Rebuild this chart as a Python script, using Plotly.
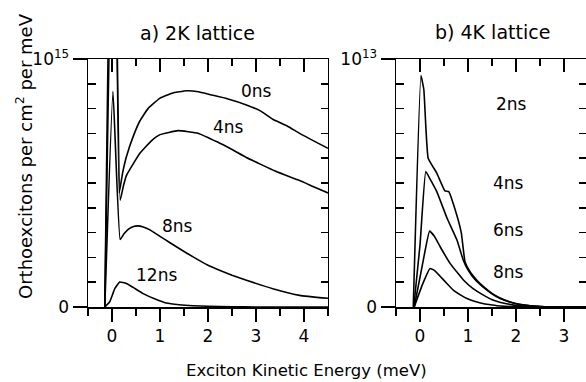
import plotly.graph_objects as go

FONT = "DejaVu Sans"

# ---------------- data: a) 2K lattice (units of 1e15 per cm^2 per meV) ----------
x_2k_0ns = [-0.15, 0.03, 0.15, 0.22, 0.30, 0.44, 0.58, 0.75, 1.00, 1.25, 1.55, 1.80, 2.05,
            2.40, 2.80, 3.10, 3.35, 3.65, 3.91, 4.20, 4.50]
y_2k_0ns = [0.0, 2.5, 0.46, 0.54, 0.606, 0.687, 0.75, 0.80, 0.842, 0.862, 0.872, 0.868, 0.856,
            0.84, 0.815, 0.79, 0.757, 0.73, 0.70, 0.67, 0.64]

x_2k_4ns = [-0.15, 0.04, 0.17, 0.24, 0.30, 0.47, 0.58, 0.82, 1.00, 1.375, 1.80, 2.20, 2.50,
            2.80, 3.10, 3.40, 3.70, 3.91, 4.20, 4.50]
y_2k_4ns = [0.0, 2.0, 0.43, 0.49, 0.53, 0.586, 0.62, 0.67, 0.695, 0.711, 0.70, 0.665, 0.635,
            0.603, 0.575, 0.548, 0.525, 0.51, 0.485, 0.46]

x_2k_8ns = [-0.15, 0.02, 0.17, 0.25, 0.35, 0.45, 0.54, 0.65, 0.80, 1.00, 1.20, 1.45, 1.69,
            2.00, 2.24, 2.50, 2.80, 3.35, 3.91, 4.50]
y_2k_8ns = [0.0, 0.87, 0.272, 0.295, 0.315, 0.325, 0.327, 0.323, 0.31, 0.285, 0.26, 0.23, 0.202,
            0.168, 0.148, 0.128, 0.108, 0.074, 0.047, 0.035]

x_2k_12ns = [-0.15, -0.05, 0.06, 0.16, 0.30, 0.45, 0.65, 0.90, 1.13, 1.40, 1.69, 2.00, 2.50,
             3.00, 4.50]
y_2k_12ns = [0.0, 0.02, 0.075, 0.101, 0.095, 0.078, 0.054, 0.032, 0.016, 0.009, 0.005, 0.003,
             0.001, 0.0, 0.0]

# ---------------- data: b) 4K lattice (units of 1e13 per cm^2 per meV) ----------
x_4k_2ns = [-0.14, 0.02, 0.08, 0.17, 0.35, 0.52, 0.60, 0.72, 0.86, 0.94, 1.05, 1.20, 1.33,
            1.50, 1.67, 1.85, 2.02, 2.30, 2.60, 3.46]
y_4k_2ns = [0.0, 0.933, 0.876, 0.60, 0.54, 0.468, 0.465, 0.40, 0.30, 0.18, 0.14, 0.105, 0.081,
            0.055, 0.036, 0.022, 0.013, 0.005, 0.001, 0.0]

x_4k_4ns = [-0.13, 0.00, 0.12, 0.20, 0.35, 0.56, 0.77, 0.90, 1.00, 1.15, 1.33, 1.50, 1.67,
            1.85, 2.02, 2.30, 2.60, 3.46]
y_4k_4ns = [0.0, 0.25, 0.546, 0.52, 0.465, 0.36, 0.27, 0.19, 0.15, 0.11, 0.078, 0.053, 0.034,
            0.021, 0.012, 0.005, 0.001, 0.0]

x_4k_6ns = [-0.12, 0.05, 0.20, 0.30, 0.42, 0.63, 0.91, 1.10, 1.33, 1.55, 1.80, 2.10, 2.50, 3.46]
y_4k_6ns = [0.0, 0.17, 0.306, 0.285, 0.243, 0.175, 0.108, 0.075, 0.047, 0.026, 0.013, 0.005,
            0.001, 0.0]

x_4k_8ns = [-0.12, 0.05, 0.21, 0.30, 0.42, 0.55, 0.70, 0.85, 0.98, 1.15, 1.33, 1.50, 1.67,
            2.00, 3.46]
y_4k_8ns = [0.0, 0.09, 0.155, 0.148, 0.124, 0.097, 0.067, 0.048, 0.034, 0.022, 0.013, 0.008,
            0.004, 0.001, 0.0]

labels_2k = ["0ns", "4ns", "8ns", "12ns"]
label_x_2k = [3.01, 2.42, 1.375, 0.925]
label_y_2k = [0.869, 0.725, 0.327, 0.128]

labels_4k = ["2ns", "4ns", "6ns", "8ns"]
label_x_4k = [1.91, 1.84, 1.84, 1.84]
label_y_4k = [0.82, 0.50, 0.31, 0.14]

x_ticks_2k = [0, 1, 2, 3, 4]
x_minor_2k = [-0.5, 0.5, 1.5, 2.5, 3.5, 4.5]
x_ticks_4k = [0, 1, 2, 3]
x_minor_4k = [-0.5, 0.5, 1.5, 2.5]
y_minor = [0.1, 0.2, 0.3, 0.4, 0.5, 0.6, 0.7, 0.8, 0.9]

LW = 1.6
fig = go.Figure()
for xs, ys in [(x_2k_0ns, y_2k_0ns), (x_2k_4ns, y_2k_4ns), (x_2k_8ns, y_2k_8ns),
               (x_2k_12ns, y_2k_12ns)]:
    fig.add_trace(go.Scatter(x=xs, y=ys, mode="lines",
                             line=dict(color="black", width=LW, shape="spline", smoothing=0.35),
                             xaxis="x", yaxis="y", showlegend=False, hoverinfo="skip"))
for xs, ys in [(x_4k_2ns, y_4k_2ns), (x_4k_4ns, y_4k_4ns), (x_4k_6ns, y_4k_6ns),
               (x_4k_8ns, y_4k_8ns)]:
    fig.add_trace(go.Scatter(x=xs, y=ys, mode="lines",
                             line=dict(color="black", width=LW, shape="spline", smoothing=0.35),
                             xaxis="x2", yaxis="y2", showlegend=False, hoverinfo="skip"))
# empty traces so the frame (top / right) axes get drawn
for xa, ya in [("x3", "y"), ("x", "y3"), ("x4", "y2"), ("x2", "y4")]:
    fig.add_trace(go.Scatter(x=[], y=[], mode="lines", xaxis=xa, yaxis=ya,
                             showlegend=False, hoverinfo="skip"))

AX = dict(showline=True, linecolor="black", linewidth=1.5, showgrid=False, zeroline=False,
          tickcolor="black", tickwidth=1.5, tickfont=dict(family=FONT, size=17, color="black"),
          fixedrange=True)

def bottom_x(domain, rng, ticks, minor, anchor):
    return dict(AX, domain=domain, range=rng, anchor=anchor, tickmode="array", tickvals=ticks,
                ticks="outside", ticklen=13,
                minor=dict(tickmode="array", tickvals=minor, ticks="outside", ticklen=7,
                           tickwidth=1.5, tickcolor="black"))

def top_x(base, rng, ticks, minor, anchor):
    return dict(AX, overlaying=base, side="top", range=rng, anchor=anchor, tickmode="array",
                tickvals=ticks, ticks="inside", ticklen=13, showticklabels=False,
                minor=dict(tickmode="array", tickvals=minor, ticks="inside", ticklen=7,
                           tickwidth=1.5, tickcolor="black"))

def left_y(exp, anchor):
    return dict(AX, domain=[0, 1], range=[0, 1], anchor=anchor, tickmode="array",
                tickvals=[0, 1], ticktext=["0", "10<sup>%d</sup>" % exp], ticks="outside",
                ticklen=14,
                minor=dict(tickmode="array", tickvals=y_minor, ticks="inside", ticklen=8,
                           tickwidth=1.5, tickcolor="black"))

def right_y(base, anchor):
    return dict(AX, overlaying=base, side="right", range=[0, 1], anchor=anchor,
                tickmode="array", tickvals=y_minor, ticks="inside", ticklen=7,
                showticklabels=False)

L_DOM = [0.0, 0.4819]
R_DOM = [0.6185, 1.0]
fig.update_layout(
    width=586, height=382,
    margin=dict(l=88, r=0, t=59, b=75),
    paper_bgcolor="white", plot_bgcolor="white",
    font=dict(family=FONT, size=16, color="black"),
    xaxis=bottom_x(L_DOM, [-0.5, 4.5], x_ticks_2k, x_minor_2k, "y"),
    xaxis2=bottom_x(R_DOM, [-0.5, 3.46], x_ticks_4k, x_minor_4k, "y2"),
    xaxis3=top_x("x", [-0.5, 4.5], x_ticks_2k, x_minor_2k, "y"),
    xaxis4=top_x("x2", [-0.5, 3.46], x_ticks_4k, x_minor_4k, "y2"),
    yaxis=left_y(15, "x"),
    yaxis2=left_y(13, "x2"),
    yaxis3=right_y("y", "x"),
    yaxis4=right_y("y2", "x2"),
)

W, H = 586, 382
ml, mr, mt, mb = 88, 0, 59, 75
pw, ph = W - ml - mr, H - mt - mb

def center(**kw):
    d = dict(showarrow=False, xanchor="center", yanchor="middle")
    d.update(kw)
    return d

ann = []
for t, x, y in zip(labels_2k, label_x_2k, label_y_2k):
    ann.append(center(text=t, x=x, y=y, xref="x", yref="y", font=dict(family=FONT, size=17)))
for t, x, y in zip(labels_4k, label_x_4k, label_y_4k):
    ann.append(center(text=t, x=x, y=y, xref="x2", yref="y2", font=dict(family=FONT, size=17)))
ann.append(center(text="a) 2K lattice", x=0.458, y=1.105, xref="x domain", yref="y domain",
                  font=dict(family=FONT, size=19)))
ann.append(center(text="b) 4K lattice", x=0.51, y=1.109, xref="x2 domain", yref="y2 domain",
                  font=dict(family=FONT, size=19)))
ann.append(center(text="Exciton Kinetic Energy (meV)", x=(306 - ml) / pw, y=(H - mb - 370) / ph,
                  xref="paper", yref="paper", font=dict(family=FONT, size=16.5)))
ann.append(center(text="Orthoexcitons per cm<sup>2</sup> per meV", x=(24 - ml) / pw,
                  y=(H - mb - 156) / ph, xref="paper", yref="paper", textangle=-90,
                  font=dict(family=FONT, size=18)))
fig.update_layout(annotations=ann)

fig.write_html("out.html", config={"displayModeBar": False, "staticPlot": True},
               post_script="document.body.style.margin='0';document.body.style.padding='0';")
